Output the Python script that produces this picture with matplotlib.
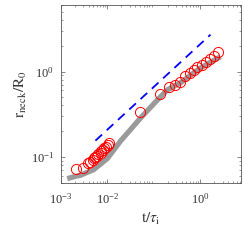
import matplotlib
matplotlib.use('Agg')
import matplotlib.pyplot as plt
from matplotlib.ticker import LogLocator, NullFormatter

plt.rcParams['font.family'] = ['Liberation Serif', 'DejaVu Serif']
plt.rcParams['mathtext.fontset'] = 'stix'

# gray curve (model)
t_model = [1.36e-3, 2.05e-3, 2.62e-3, 5.07e-3, 9.9e-3, 0.0136, 0.019, 0.0313,
           0.0513, 0.119, 0.195, 0.372, 1.0, 2.7]
r_model = [0.0557, 0.0593, 0.061, 0.0711, 0.0957, 0.12, 0.153, 0.209,
           0.285, 0.465, 0.61, 0.736, 1.1, 1.49]

# red circles (experiment)
t_exp = [2.15e-3, 3.0e-3, 3.8e-3, 4.3e-3, 4.8e-3, 5.25e-3, 5.5e-3, 6.1e-3, 6.4e-3,
         7.1e-3, 7.4e-3, 8.2e-3, 8.6e-3, 9.5e-3, 1.05e-2, 1.1e-2,
         0.0513, 0.138, 0.208, 0.29, 0.372, 0.475, 0.589, 0.718, 0.85,
         1.09, 1.35, 1.64, 1.93, 2.40]
r_exp = [0.073, 0.074, 0.084, 0.0866, 0.0914, 0.0966, 0.099, 0.102, 0.108,
         0.111, 0.117, 0.120, 0.126, 0.130, 0.137, 0.145,
         0.339, 0.54, 0.655, 0.70, 0.763, 0.897, 0.957, 1.03, 1.13,
         1.2, 1.28, 1.40, 1.50, 1.67]

# dashed guide line, slope 1/2
t_guide = [0.0055, 1.65]
r_guide = [0.155, 2.7]

fig = plt.figure(figsize=(2.44, 2.40), dpi=100)
ax = fig.add_axes([0.25, 0.239, 0.738, 0.74])

ax.plot(t_model, r_model, color='#9a9a9a', lw=3.8, solid_capstyle='butt', zorder=1)
ax.plot(t_guide, r_guide, color='blue', lw=1.3, dashes=(5, 3.5), zorder=2)
ax.plot(t_exp, r_exp, 'o', mfc='none', mec='red', ms=7.3, mew=0.7, zorder=3)

ax.set_xscale('log')
ax.set_yscale('log')
ax.set_xlim(1e-3, 7.5)
ax.set_ylim(0.05, 6)
ax.set_xticks([1e-3, 1e-2, 1e0])
ax.set_yticks([1e-1, 1e0])
ax.xaxis.set_minor_locator(LogLocator(base=10, subs=range(2, 10), numticks=20))
ax.yaxis.set_minor_locator(LogLocator(base=10, subs=range(2, 10), numticks=20))
ax.xaxis.set_minor_formatter(NullFormatter())
ax.yaxis.set_minor_formatter(NullFormatter())

for s in ax.spines.values():
    s.set_color('#555555')
    s.set_linewidth(0.6)
ax.tick_params(which='both', direction='in', top=True, right=True,
               colors='#555555', labelcolor='#333333', labelsize=9)
ax.tick_params(which='major', length=3, width=0.5, pad=5)
ax.tick_params(axis='x', which='major', pad=7)
ax.tick_params(which='minor', length=1.6, width=0.4)

ax.set_xlabel(r'$\mathrm{t}/\tau_\mathrm{i}$', fontsize=11, color='#333333', labelpad=3)
ax.set_ylabel(r'$\mathrm{r_{neck}/R_0}$', fontsize=11, color='#333333', labelpad=1)

fig.savefig('out.png', dpi=100)
